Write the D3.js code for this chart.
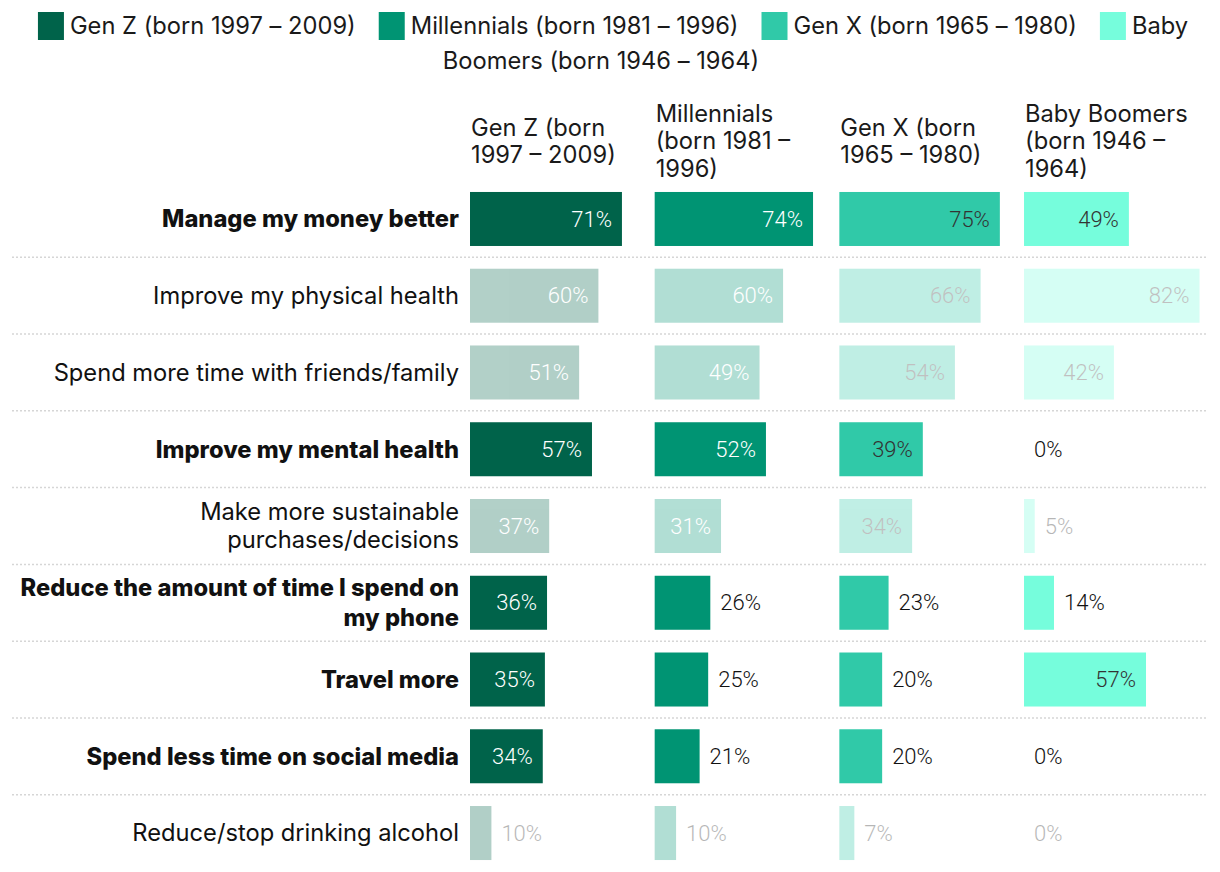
<!DOCTYPE html>
<html>
<head>
<meta charset="utf-8">
<script src="https://cdn.jsdelivr.net/npm/d3@7"></script>
<style>
body { margin: 0; background: #fff; }
text { font-family: Inter, "Noto Sans", sans-serif; }
</style>
</head>
<body>
<script>
// row categories, top to bottom
var categories = [
	"Manage my money better",
	"Improve my physical health",
	"Spend more time with friends/family",
	"Improve my mental health",
	"Make more sustainable purchases/decisions",
	"Reduce the amount of time I spend on my phone",
	"Travel more",
	"Spend less time on social media",
	"Reduce/stop drinking alcohol"
];
// rows drawn in full colour, the others are faded
var highlighted = [true, false, false, true, false, true, true, true, false];

var generations = [
	"Gen Z (born 1997 – 2009)",
	"Millennials (born 1981 – 1996)",
	"Gen X (born 1965 – 1980)",
	"Baby Boomers (born 1946 – 1964)"
];

// percentages
var genZ        = [71, 60, 51, 57, 37, 36, 35, 34, 10];
var millennials = [74, 60, 49, 52, 31, 26, 25, 21, 10];
var genX        = [75, 66, 54, 39, 34, 23, 20, 20, 7];
var boomers     = [49, 82, 42, 0, 5, 14, 57, 0, 0];

var series = [genZ, millennials, genX, boomers];
var colors = ["#00634a", "#009473", "#30c9a8", "#76fddc"];

var w = 1220, h = 872;
var fs = 23.7; //main text size

var svg = d3.select("body").append("svg")
	.attr("width", w)
	.attr("height", h);

// scratch text used to measure strings
var measurer = svg.append("text").attr("x", -1000).attr("y", -1000);
function textWidth(str, size, weight, family){
	measurer.style("font-size", size + "px")
		.style("font-weight", weight)
		.style("font-family", family || null)
		.text(str);
	return measurer.node().getComputedTextLength();
}
function wrapWords(str, maxW, size, weight){
	var words = str.split(" "), lines = [], line = [];
	words.forEach(function(wd){
		var test = line.concat([wd]).join(" ");
		if (line.length && textWidth(test, size, weight) > maxW) {
			lines.push(line.join(" "));
			line = [wd];
		} else {
			line.push(wd);
		}
	});
	lines.push(line.join(" "));
	return lines;
}

//scales
var col = d3.scaleBand()
	.domain(generations)
	.range([470, 1208.7]);

var x = d3.scaleLinear()
	.domain([0, 100])
	.range([0, 214]);

var y = d3.scaleBand()
	.domain(categories)
	.range([180.6, 871.4])
	.paddingInner(0.2964)
	.paddingOuter(0.1482);

var color = d3.scaleOrdinal().domain(generations).range(colors);

// ---- legend (inline flow, wraps and centres like html) ----
var swatchW = 26, swatchGap = 6, itemGap = 23;
var spaceW = textWidth("a a", fs, 400) - textWidth("aa", fs, 400);
var atoms = [];
generations.forEach(function(g, gi){
	var words = g.split(" ");
	words.forEach(function(wd, wi){
		var tw = textWidth(wd, fs, 400);
		atoms.push({
			gen: g,
			word: wd,
			swatch: wi === 0,
			w: (wi === 0 ? swatchW + swatchGap : 0) + tw,
			gapBefore: wi === 0 ? (gi === 0 ? 0 : itemGap) : spaceW
		});
	});
});
var legLines = [[]], lineW = 0, legMax = 1196;
atoms.forEach(function(a){
	var cur = legLines[legLines.length - 1];
	var add = (cur.length ? a.gapBefore : 0) + a.w;
	if (cur.length && lineW + add > legMax) {
		a.first = true;
		legLines.push([a]);
		lineW = a.w;
	} else {
		if (!cur.length) a.first = true;
		cur.push(a);
		lineW += add;
	}
});
var legend = svg.append("g").attr("class", "legend");
legLines.forEach(function(line, li){
	var total = d3.sum(line, function(a){ return (a.first ? 0 : a.gapBefore) + a.w; });
	var cx = w / 2 - total / 2 + (li > 0 ? -9 : 3);
	var cy = 26 + li * 35;
	line.forEach(function(a){
		if (!a.first) cx += a.gapBefore;
		var tx = cx;
		if (a.swatch) {
			legend.append("rect")
				.attr("x", cx)
				.attr("y", cy - 14)
				.attr("width", swatchW)
				.attr("height", 28)
				.style("fill", color(a.gen));
			tx += swatchW + swatchGap;
		}
		legend.append("text")
			.attr("x", tx)
			.attr("y", cy)
			.attr("dy", "0.35em")
			.style("font-size", fs + "px")
			.style("fill", "#1a1a1a")
			.text(a.word);
		cx += a.w;
	});
});

// ---- column headers ----
var headLH = 27.5;
var headers = svg.selectAll(".header")
	.data(generations)
	.enter()
	.append("text")
	.attr("class", "header")
	.style("font-size", fs + "px")
	.style("fill", "#1a1a1a");
headers.each(function(g){
	var lines = wrapWords(g, 168, fs, 400);
	var sel = d3.select(this);
	var top = 141 - (lines.length - 1) * headLH / 2;
	lines.forEach(function(l, i){
		sel.append("tspan")
			.attr("x", col(g) + 1)
			.attr("y", top + i * headLH)
			.attr("dy", "0.35em")
			.text(l);
	});
});

// ---- dotted separators ----
svg.selectAll(".sep")
	.data(categories.slice(1))
	.enter()
	.append("line")
	.attr("class", "sep")
	.attr("x1", 12)
	.attr("x2", 1208)
	.attr("y1", function(d){ return y(d) - (y.step() - y.bandwidth()) / 2; })
	.attr("y2", function(d){ return y(d) - (y.step() - y.bandwidth()) / 2; })
	.style("stroke", "#d6d6d6")
	.style("stroke-width", 1.5)
	.style("stroke-dasharray", "2,2");

// ---- row labels ----
var rowLabels = svg.selectAll(".rowLabel")
	.data(categories)
	.enter()
	.append("text")
	.attr("class", "rowLabel")
	.attr("text-anchor", "end")
	.style("font-size", fs + "px")
	.style("font-weight", function(d, i){ return highlighted[i] ? 800 : 400; })
	.style("fill", "#111");
rowLabels.each(function(d, i){
	var weight = highlighted[i] ? 800 : 400;
	var lh = highlighted[i] ? 30 : 28;
	var lines = wrapWords(d, 446, fs, weight);
	var sel = d3.select(this);
	var cy = y(d) + y.bandwidth() / 2 - (lines.length - 1) * lh / 2;
	lines.forEach(function(l, li){
		sel.append("tspan")
			.attr("x", 459)
			.attr("y", cy + li * lh)
			.attr("dy", "0.35em")
			.text(l);
	});
});

// ---- bars ----
var cells = [];
categories.forEach(function(c, ri){
	generations.forEach(function(g, gi){
		cells.push({ cat: c, gen: g, value: series[gi][ri], hi: highlighted[ri] });
	});
});

var cell = svg.selectAll(".cell")
	.data(cells)
	.enter()
	.append("g")
	.attr("class", "cell")
	.style("opacity", function(d){ return d.hi ? 1 : 0.3; });

cell.append("rect")
	.attr("x", function(d){ return col(d.gen); })
	.attr("y", function(d){ return y(d.cat); })
	.attr("width", function(d){ return x(d.value); })
	.attr("height", y.bandwidth())
	.style("fill", function(d){ return color(d.gen); });

var valSize = 22, valWeight = 300, valFont = "Roboto";
cell.append("text")
	.attr("class", "value")
	.style("font-family", valFont)
	.style("font-size", valSize + "px")
	.style("font-weight", valWeight)
	.each(function(d){
		var label = d.value + "%";
		var tw = textWidth(label, valSize, valWeight, valFont);
		var inside = x(d.value) > tw + 20;
		var light = d3.lab(color(d.gen)).l > 60;
		d3.select(this)
			.attr("x", col(d.gen) + x(d.value) + (inside ? -10 : 10))
			.attr("y", y(d.cat) + y.bandwidth() / 2)
			.attr("dy", "0.35em")
			.attr("text-anchor", inside ? "end" : "start")
			.style("fill", inside ? (light ? "#333" : "#fff") : "#111")
			.text(label);
	});

measurer.remove();
</script>
</body>
</html>
